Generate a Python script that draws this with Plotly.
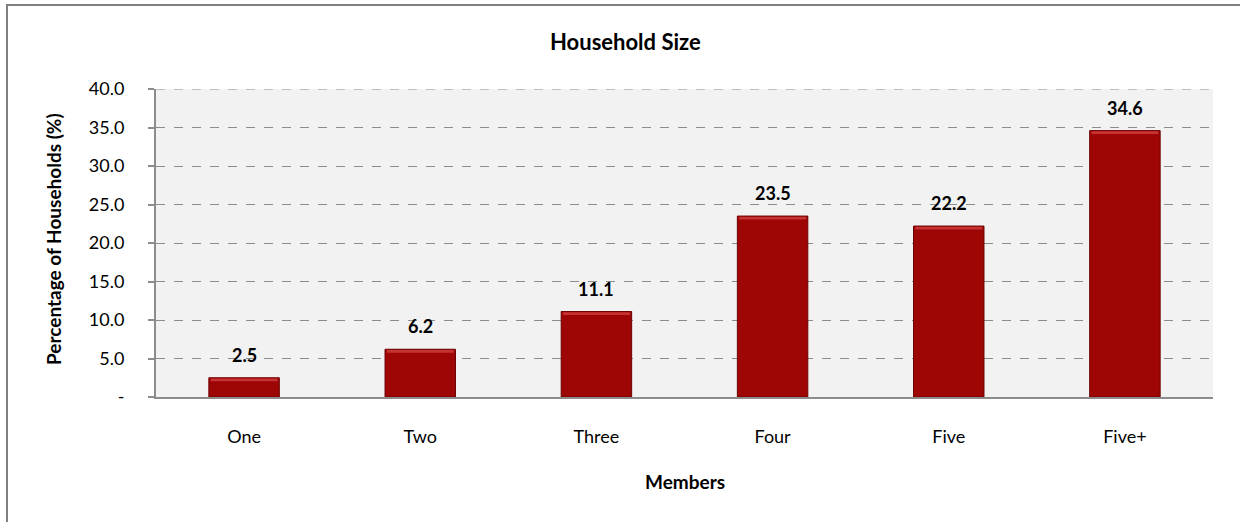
import plotly.graph_objects as go

# Household size distribution
categories = ["One", "Two", "Three", "Four", "Five", "Five+"]
percentages = [2.5, 6.2, 11.1, 23.5, 22.2, 34.6]
y_ticks = [0, 5, 10, 15, 20, 25, 30, 35, 40]
y_tick_labels = ["-", "5.0", "10.0", "15.0", "20.0", "25.0", "30.0", "35.0", "40.0"]

W, H = 1240, 522
L, R, T, B = 156, 27, 89, 125
FONT = "Lato, 'Open Sans', sans-serif"


def px(x):
    return (x - L) / (W - L - R)


def py(y):
    return (H - B - y) / (H - T - B)


fig = go.Figure()

fig.add_trace(go.Bar(
    x=categories,
    y=percentages,
    marker=dict(color="#9E0505", line=dict(color="#6E0000", width=1)),
    width=0.4,
))

shapes = []
# light highlight band along the top edge of each bar
for i, v in enumerate(percentages):
    shapes.append(dict(type="rect", xref="x", yref="y",
                       x0=i - 0.19, x1=i + 0.19, y0=v - 0.45, y1=v - 0.1,
                       fillcolor="rgba(230,90,90,0.55)", line=dict(width=0), layer="above"))

# top gridline at the axis maximum
shapes.append(dict(type="line", xref="paper", yref="y", x0=0, x1=1, y0=40, y1=40,
                   line=dict(color="#8C8C8C", width=1.2, dash="dash"), layer="below"))

# outer chart border
shapes.append(dict(type="rect", xref="paper", yref="paper",
                   x0=px(7), x1=px(1245), y0=py(530), y1=py(5),
                   line=dict(color="#808080", width=2), fillcolor="rgba(0,0,0,0)"))

annotations = [
    dict(text="<b>Household Size</b>", xref="paper", yref="paper",
         x=px(625), y=py(42), xanchor="center", yanchor="middle",
         showarrow=False, font=dict(size=22)),
    dict(text="<b>Percentage of Households (%)</b>", xref="paper", yref="paper",
         x=px(53), y=py(239), xanchor="center", yanchor="middle", textangle=-90,
         showarrow=False, font=dict(size=19)),
    dict(text="<b>Members</b>", xref="paper", yref="paper",
         x=px(685), y=py(481), xanchor="center", yanchor="middle",
         showarrow=False, font=dict(size=19)),
]
# value labels above the bars
for c, v in zip(categories, percentages):
    annotations.append(dict(text=f"<b>{v:.1f}</b>", x=c, y=v, xref="x", yref="y",
                            yanchor="bottom", yshift=10, showarrow=False,
                            font=dict(size=18)))

fig.update_layout(
    width=W, height=H,
    margin=dict(l=L, r=R, t=T, b=B),
    paper_bgcolor="#FFFFFF",
    plot_bgcolor="#F2F2F2",
    showlegend=False,
    font=dict(family=FONT, size=18, color="#000000"),
    bargap=0.6,
    shapes=shapes,
    annotations=annotations,
    xaxis=dict(
        showline=True, linecolor="#8C8C8C", linewidth=2,
        ticks="", tickfont=dict(family=FONT, size=18), ticklabelstandoff=22,
        showgrid=False, zeroline=False, fixedrange=True,
    ),
    yaxis=dict(
        range=[0, 40], tickvals=y_ticks, ticktext=y_tick_labels,
        showline=True, linecolor="#8C8C8C", linewidth=2,
        ticks="outside", ticklen=6, tickcolor="#8C8C8C", tickwidth=2,
        showgrid=True, gridcolor="#8C8C8C", griddash="dash", gridwidth=1.2,
        zeroline=False, tickfont=dict(family=FONT, size=18), ticklabelstandoff=20,
    ),
)

fig.write_html("out.html")
